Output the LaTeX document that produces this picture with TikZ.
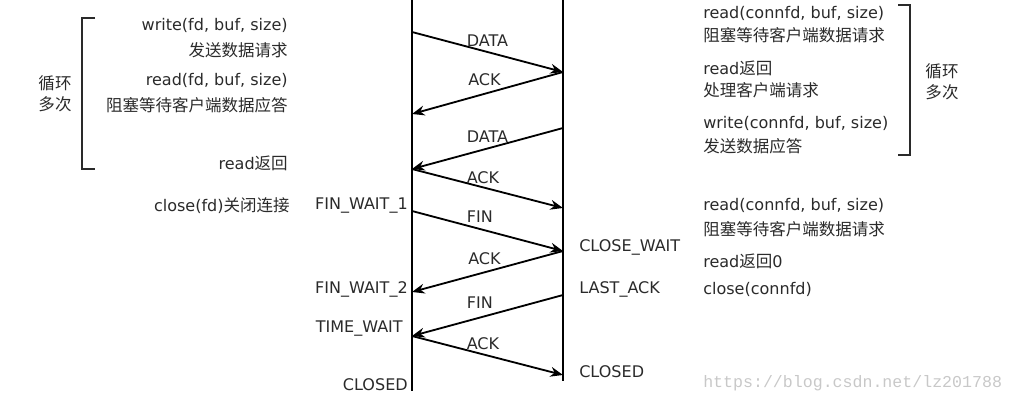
\documentclass[tikz,border=0pt]{standalone}
\usepackage{fontspec}
\setmainfont{DejaVu Sans}
\newfontfamily\cjk{Noto Sans CJK SC}[Scale=1.03]
\newfontfamily\wmfont{Liberation Mono}
\newcommand{\zh}[1]{{\cjk #1}}
\usetikzlibrary{arrows.meta}
\definecolor{txtgray}{HTML}{2A2A2A}
\definecolor{wmgray}{HTML}{C8C8C8}
\tikzset{
  lifeline/.style={line width=1.7pt},
  msg/.style={line width=1.3pt,-{Stealth[length=9pt,width=7pt]}},
  lbl/.style={text=txtgray,font=\fontsize{11.4}{13}\selectfont,inner sep=0pt},
  bracket/.style={line width=1.4pt,txtgray}
}
\begin{document}
\begin{tikzpicture}[x=0.025cm,y=-0.025cm]
\useasboundingbox (0,0) rectangle (1013,404);
% lifelines
\coordinate (ctop) at (412,0);  \coordinate (cbot) at (412,391);
\coordinate (stop) at (563,0);  \coordinate (sbot) at (563,381);
\draw[lifeline] (ctop) -- (cbot);
\draw[lifeline] (stop) -- (sbot);
% points on the client and the server
\foreach \y[count=\n] in {32,114,169,211,292,336}
  \coordinate (c\n) at (412,\y);
\foreach \y[count=\n] in {72,128,208,251,295,375}
  \coordinate (s\n) at (563,\y);
% messages
\draw[msg] (c1) -- node[lbl,above=3.5pt,pos=0.5] {DATA} (s1);
\draw[msg] (s1) -- node[lbl,above=5pt,pos=0.52] {ACK} (c2);
\draw[msg] (s2) -- node[lbl,above=3.5pt,pos=0.5] {DATA} (c3);
\draw[msg] (c3) -- node[lbl,above=2pt,pos=0.47] {ACK} (s3);
\draw[msg] (c4) -- node[lbl,above=4pt,pos=0.45] {FIN} (s4);
\draw[msg] (s4) -- node[lbl,above=4.5pt,pos=0.52] {ACK} (c5);
\draw[msg] (s5) -- node[lbl,above=6pt,pos=0.55] {FIN} (c6);
\draw[msg] (c6) -- node[lbl,above=2.5pt,pos=0.47] {ACK} (s6);
% client side texts
\node[lbl,anchor=east] (cwrite) at (288,25) {write(fd, buf, size)};
\node[lbl,anchor=east] (csend) at (288,50) {\zh{发送数据请求}};
\node[lbl,anchor=east] (cread) at (288,80) {read(fd, buf, size)};
\node[lbl,anchor=east] (cwait) at (288,105) {\zh{阻塞等待客户端数据应答}};
\node[lbl,anchor=east] (cret) at (288,163) {read\zh{返回}};
\node[lbl,anchor=east] (cclose) at (290,206) {close(fd)\zh{关闭连接}};
\node[lbl,align=center] (cloop) at (55,94) {\zh{循环}\\[2pt]\zh{多次}};
\draw[bracket] (95,18) -- (82,18) -- (82,169) -- (95,169);
% client states
\node[lbl,anchor=east] (fw1) at (408,206) {FIN\_WAIT\_1};
\node[lbl,anchor=east] (fw2) at (408,289) {FIN\_WAIT\_2};
\node[lbl,anchor=east] (tw) at (403,329) {TIME\_WAIT};
\node[lbl,anchor=east] (cclosed) at (408,385) {CLOSED};
% server side texts
\node[lbl,anchor=west] (sread) at (703,13) {read(connfd, buf, size)};
\node[lbl,anchor=west] (swait) at (703,35) {\zh{阻塞等待客户端数据请求}};
\node[lbl,anchor=west] (sret) at (703,68) {read\zh{返回}};
\node[lbl,anchor=west] (sdo) at (703,90) {\zh{处理客户端请求}};
\node[lbl,anchor=west] (swrite) at (703,123) {write(connfd, buf, size)};
\node[lbl,anchor=west] (sans) at (703,146) {\zh{发送数据应答}};
\node[lbl,align=center] (sloop) at (942,82) {\zh{循环}\\[2pt]\zh{多次}};
\draw[bracket] (898,5) -- (910,5) -- (910,155) -- (898,155);
\node[lbl,anchor=west] (sread2) at (703,205) {read(connfd, buf, size)};
\node[lbl,anchor=west] (swait2) at (703,229) {\zh{阻塞等待客户端数据请求}};
\node[lbl,anchor=west] (sret0) at (703,261) {read\zh{返回}0};
\node[lbl,anchor=west] (sclose) at (703,289) {close(connfd)};
% server states
\node[lbl,anchor=west] (cw) at (579,247) {CLOSE\_WAIT};
\node[lbl,anchor=west] (la) at (579,289) {LAST\_ACK};
\node[lbl,anchor=west] (sclosed) at (579,372) {CLOSED};
% watermark
\node[anchor=west,text=wmgray,font=\wmfont\fontsize{11.8}{14}\selectfont,inner sep=0pt] (wm) at (703,383) {https://blog.csdn.net/lz201788};
\end{tikzpicture}
\end{document}
